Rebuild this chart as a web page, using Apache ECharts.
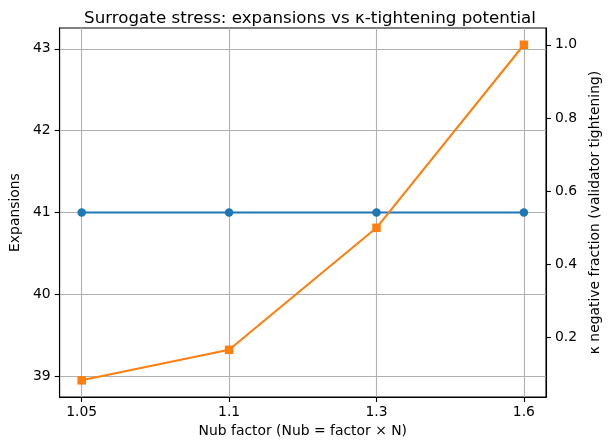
<!DOCTYPE html>
<html>
<head>
<meta charset="utf-8">
<script src="https://cdn.jsdelivr.net/npm/echarts@6/dist/echarts.min.js"></script>
<style>
html,body{margin:0;padding:0;background:#fff;}
#c{width:610px;height:443px;}
</style>
</head>
<body>
<div id="c"></div>
<script>
const categories = ['1.05', '1.1', '1.3', '1.6'];
const expansions = [41, 41, 41, 41];
const kappaNegFraction = [0.0833, 0.1667, 0.5, 1.0];
const leftTicks = [39, 40, 41, 42, 43];
const rightTicks = [0.2, 0.4, 0.6, 0.8, 1.0];

const idx = categories.map((_, i) => i);
const font = 'DejaVu Sans';
const fs = 13.9;
const chart = echarts.init(document.getElementById('c'), null, {renderer: 'canvas'});
chart.setOption({
  animation: false,
  backgroundColor: '#fff',
  textStyle: {fontFamily: font},
  title: {
    text: 'Surrogate stress: expansions vs κ-tightening potential',
    left: 305, top: 5, textAlign: 'center',
    textStyle: {fontFamily: font, fontSize: 16.7, fontWeight: 'normal', color: '#000'}
  },
  grid: {left: 57, right: 57, top: 28, bottom: 45, show: true, borderColor: '#000', borderWidth: 1.1, backgroundColor: 'transparent'},
  xAxis: {
    type: 'value', min: -0.15, max: 3.15,
    name: 'Nub factor (Nub = factor × N)', nameLocation: 'middle', nameGap: 26,
    nameTextStyle: {fontFamily: font, fontSize: fs, color: '#000'},
    axisLine: {show: true, onZero: false, lineStyle: {color: '#000', width: 1.1}},
    axisTick: {show: true, customValues: idx, length: 4.9, lineStyle: {color: '#000', width: 1.1}},
    axisLabel: {customValues: idx, margin: 8, fontFamily: font, fontSize: fs, color: '#000',
      formatter: v => categories[Math.round(v)]},
    splitLine: {show: true, lineStyle: {color: '#b0b0b0', width: 1.1}}
  },
  yAxis: [{
    type: 'value', min: 38.745, max: 43.255, position: 'left',
    name: 'Expansions', nameLocation: 'middle', nameGap: 33, nameRotate: 90,
    nameTextStyle: {fontFamily: font, fontSize: fs, color: '#000'},
    axisLine: {show: true, onZero: false, lineStyle: {color: '#000', width: 1.1}},
    axisTick: {show: true, customValues: leftTicks, length: 4.9, lineStyle: {color: '#000', width: 1.1}},
    axisLabel: {customValues: leftTicks, margin: 9, fontFamily: font, fontSize: fs, color: '#000'},
    splitLine: {show: true, lineStyle: {color: '#b0b0b0', width: 1.1}}
  }, {
    type: 'value', min: 0.0375, max: 1.0458, position: 'right',
    name: 'κ negative fraction (validator tightening)', nameLocation: 'middle', nameGap: 37, nameRotate: 90,
    nameTextStyle: {fontFamily: font, fontSize: fs, color: '#000'},
    axisLine: {show: true, onZero: false, lineStyle: {color: '#000', width: 1.1}},
    axisTick: {show: true, customValues: rightTicks, length: 4.9, lineStyle: {color: '#000', width: 1.1}},
    axisLabel: {customValues: rightTicks, margin: 9, fontFamily: font, fontSize: fs, color: '#000',
      formatter: v => v.toFixed(1)},
    splitLine: {show: false}
  }],
  series: [{
    type: 'line', yAxisIndex: 0,
    data: idx.map(i => [i, expansions[i]]),
    symbol: 'circle', symbolSize: 8.5,
    lineStyle: {color: '#1f77b4', width: 2.1},
    itemStyle: {color: '#1f77b4'}, z: 2
  }, {
    type: 'line', yAxisIndex: 1,
    data: idx.map(i => [i, kappaNegFraction[i]]),
    symbol: 'rect', symbolSize: 8.5,
    lineStyle: {color: '#ff7f0e', width: 2.1},
    itemStyle: {color: '#ff7f0e'}, z: 3
  }]
});
</script>
</body>
</html>
